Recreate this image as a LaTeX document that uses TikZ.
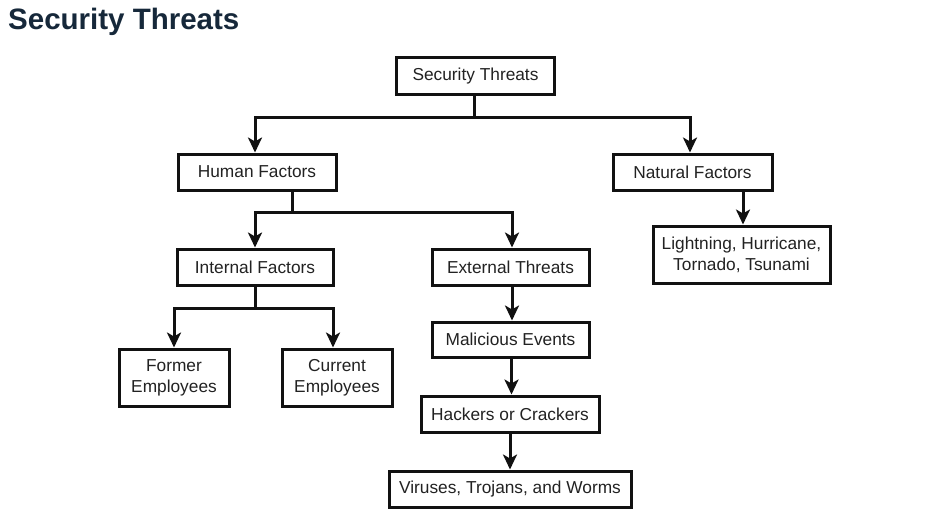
\documentclass[tikz,border=0pt]{standalone}
\usepackage{fontspec}
\setmainfont{Liberation Sans}
\usetikzlibrary{arrows.meta}
\definecolor{titleink}{HTML}{16283A}
\definecolor{boxink}{HTML}{111111}
\definecolor{textink}{HTML}{222222}
\begin{document}
\begin{tikzpicture}[x=1pt,y=-1pt,
  box/.style={draw=boxink, line width=3pt, rectangle, inner sep=0pt,
    text=textink, align=center, font=\fontsize{17.3}{21}\selectfont},
  link/.style={draw=boxink, line width=3pt},
  arrowlink/.style={link, -{Stealth[length=15pt,width=14pt,inset=4pt]}}]
  \useasboundingbox (0,0) rectangle (942,511);
  \fill[white] (0,0) rectangle (942,511);

  % heading
  \node[anchor=base west, inner sep=0pt, text=titleink,
        font=\fontsize{29.5}{30}\selectfont\bfseries] (title) at (8,30) {Security Threats};

  % boxes
  \node[box, minimum width=158pt, minimum height=36pt] (st)  at (475.5,76)  {Security Threats};
  \node[box, minimum width=158pt, minimum height=36pt] (hf)  at (257,172)   {Human Factors};
  \node[box, minimum width=159pt, minimum height=36pt] (nf)  at (692.5,172) {Natural Factors};
  \node[box, minimum width=156pt, minimum height=36pt] (inf) at (255,267)   {Internal Factors};
  \node[box, minimum width=157pt, minimum height=36pt] (ext) at (510.5,267) {External Threats};
  \node[box, minimum width=157pt, minimum height=35pt] (mal) at (510.5,339.5) {Malicious Events};
  \node[box, minimum width=178pt, minimum height=36pt] (hac) at (510,414)   {Hackers or Crackers};
  \node[box, minimum width=242pt, minimum height=36pt] (vir) at (510,489)   {Viruses, Trojans, and Worms};
  \node[box, minimum width=110pt, minimum height=57pt] (fem) at (174,377.5) {Former\\Employees};
  \node[box, minimum width=110pt, minimum height=57pt] (cem) at (337,377.5) {Current\\Employees};
  \node[box, minimum width=177pt, minimum height=57pt] (nat) at (741.5,254.5) {Lightning, Hurricane,\\Tornado, Tsunami};

  % branching points
  \coordinate (j1) at (474,117);
  \coordinate (j2) at (292,212);
  \coordinate (j3) at (255,308);

  % top level split
  \draw[link] (st.south -| j1) -- (j1);
  \draw[arrowlink] (j1) -| ([xshift=-2pt]hf.north);
  \draw[arrowlink] (j1) -| ([xshift=-2.5pt]nf.north);

  % human factors split
  \draw[link] (hf.south -| j2) -- (j2);
  \draw[arrowlink] (j2) -| (inf.north);
  \draw[arrowlink] (j2) -| ([xshift=1.5pt]ext.north);

  % internal factors split
  \draw[link] (inf.south) -- (j3);
  \draw[arrowlink] (j3) -| (fem.north);
  \draw[arrowlink] (j3) -| ([xshift=-4pt]cem.north);

  % chains
  \draw[arrowlink] ([xshift=1.5pt]ext.south) -- ([xshift=1.5pt]mal.north);
  \draw[arrowlink] ([xshift=1pt]mal.south) -- ([xshift=1.5pt]hac.north);
  \draw[arrowlink] (hac.south) -- (vir.north);
  \draw[arrowlink] ([xshift=50.5pt]nf.south) -- ([xshift=1.5pt]nat.north);
\end{tikzpicture}
\end{document}
